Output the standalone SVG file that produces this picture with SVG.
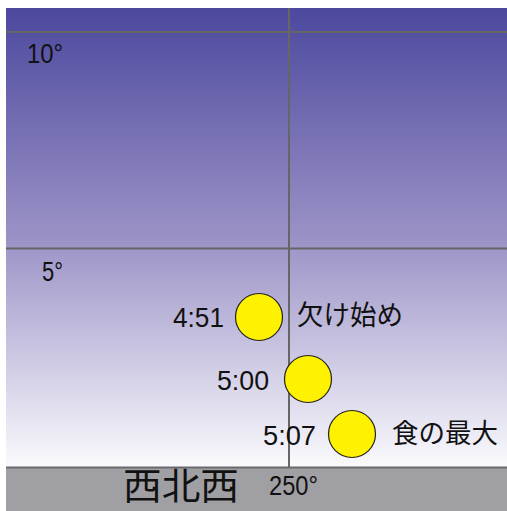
<svg xmlns="http://www.w3.org/2000/svg" width="507" height="511" viewBox="0 0 507 511">
  <defs>
    <linearGradient id="sky" x1="0" y1="8" x2="0" y2="467" gradientUnits="userSpaceOnUse">
      <stop offset="0" stop-color="#4c489e"/>
      <stop offset="0.5" stop-color="#9a92c6"/>
      <stop offset="1" stop-color="#fafafd"/>
    </linearGradient>
    <clipPath id="sunClip">
      <circle cx="352" cy="434" r="23.5"/>
    </clipPath>
  </defs>
  <style>
    .grid { stroke: #666; stroke-width: 2; fill: none; }
    .sun { fill: #fff200; stroke: #222; stroke-width: 1.2; }
    .num { font-family: "Liberation Sans", "DejaVu Sans", sans-serif; font-size: 28px; fill: #111; }
    .jp { font-family: "Noto Sans CJK JP", sans-serif; font-size: 27px; fill: #111; }
    .dir { font-family: "Noto Sans CJK JP", sans-serif; font-size: 37px; fill: #111; }
  </style>

  <!-- sky and ground -->
  <rect x="6" y="8" width="501" height="460" fill="url(#sky)"/>
  <rect x="6" y="467" width="501" height="44" fill="#a0a0a4"/>
  <line x1="6" y1="467.5" x2="507" y2="467.5" stroke="#6a6a6e" stroke-width="2"/>

  <!-- altitude / azimuth grid -->
  <g id="grid">
    <line class="grid" x1="6" y1="32" x2="507" y2="32"/>
    <line class="grid" x1="6" y1="248.5" x2="507" y2="248.5"/>
    <line class="grid" x1="289" y1="8" x2="289" y2="467"/>
  </g>
  <text class="num" x="27" y="63" textLength="36" lengthAdjust="spacingAndGlyphs">10°</text>
  <text class="num" x="42" y="281" textLength="21" lengthAdjust="spacingAndGlyphs">5°</text>
  <text class="num" x="269" y="495" textLength="49" lengthAdjust="spacingAndGlyphs">250°</text>
  <text class="dir" x="123" y="500" textLength="116" lengthAdjust="spacingAndGlyphs">西北西</text>

  <!-- sun positions -->
  <g id="sun-0451">
    <circle class="sun" cx="259" cy="317" r="23.5"/>
    <text class="num" x="173" y="327" textLength="51" lengthAdjust="spacingAndGlyphs">4:51</text>
    <text class="jp" x="297" y="325" textLength="106" lengthAdjust="spacingAndGlyphs">欠け始め</text>
  </g>
  <g id="sun-0500">
    <circle class="sun" cx="308" cy="379" r="23.5"/>
    <text class="num" x="217" y="390" textLength="52" lengthAdjust="spacingAndGlyphs">5:00</text>
  </g>
  <g id="sun-0507">
    <circle class="sun" cx="352" cy="434" r="23.5"/>
    <circle cx="368" cy="390" r="23.5" fill="#222" clip-path="url(#sunClip)"/>
    <text class="num" x="263" y="445" textLength="53" lengthAdjust="spacingAndGlyphs">5:07</text>
    <text class="jp" x="392" y="443" textLength="106" lengthAdjust="spacingAndGlyphs">食の最大</text>
  </g>
</svg>
